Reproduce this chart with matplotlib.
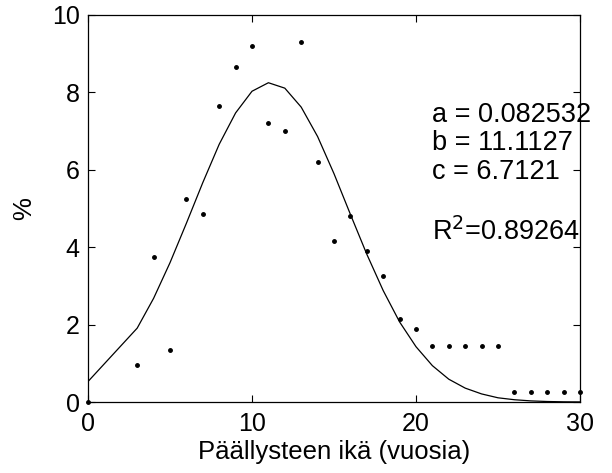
import numpy as np
import matplotlib
matplotlib.use("Agg")
import matplotlib.pyplot as plt

plt.rcParams["font.family"] = ["Liberation Sans", "DejaVu Sans"]

# observed share (%) by pavement age
age = [0, 3, 4, 5, 6, 7, 8, 9, 10, 11, 12, 13, 14, 15, 16, 17, 18, 19, 20,
       21, 22, 23, 24, 25, 26, 27, 28, 29, 30]
share = [0.0, 0.95, 3.75, 1.35, 5.25, 4.85, 7.65, 8.65, 9.2, 7.2, 7.0, 9.3,
         6.2, 4.15, 4.8, 3.9, 3.25, 2.15, 1.9,
         1.45, 1.45, 1.45, 1.45, 1.45, 0.25, 0.25, 0.25, 0.25, 0.25]
# fitted curve read at the same ages
fit = [0.53, 1.91, 2.68, 3.60, 4.62, 5.67, 6.66, 7.47, 8.03, 8.25, 8.11,
       7.62, 6.86, 5.90, 4.85, 3.82, 2.88, 2.07, 1.43,
       0.94, 0.59, 0.36, 0.21, 0.11, 0.06, 0.03, 0.014, 0.006, 0.003]

params = ["a = 0.082532", "b = 11.1127", "c = 6.7121"]
r2_text = r"R$^2$=0.89264"

fig = plt.figure(figsize=(6.12, 4.73), dpi=100)
ax = fig.add_axes([0.1438, 0.150, 0.9477 - 0.1438, 0.9683 - 0.150])

ax.plot(age, fit, color="black", lw=0.9)
ax.plot(age, share, ".", color="black", ms=5, clip_on=False)

ax.set_xlim(0, 30)
ax.set_ylim(0, 10)
ax.set_xticks([0, 10, 20, 30])
ax.set_yticks([0, 2, 4, 6, 8, 10])
ax.tick_params(direction="in", top=True, right=True, labelsize=18,
               length=5, width=0.8)
ax.tick_params(axis="x", pad=7)
ax.tick_params(axis="y", pad=6)
for s in ax.spines.values():
    s.set_linewidth(0.9)

ax.set_xlabel("Päällysteen ikä (vuosia)", fontsize=18.5, labelpad=3)
ax.set_ylabel("%", fontsize=18.5, labelpad=11)

for i, t in enumerate(params):
    ax.text(21.0, 7.42 - 0.74 * i, t, fontsize=19.5, va="center", ha="left")
ax.text(21.0, 4.39, r2_text, fontsize=19.5, va="center", ha="left")

fig.savefig("out.png", dpi=100)
